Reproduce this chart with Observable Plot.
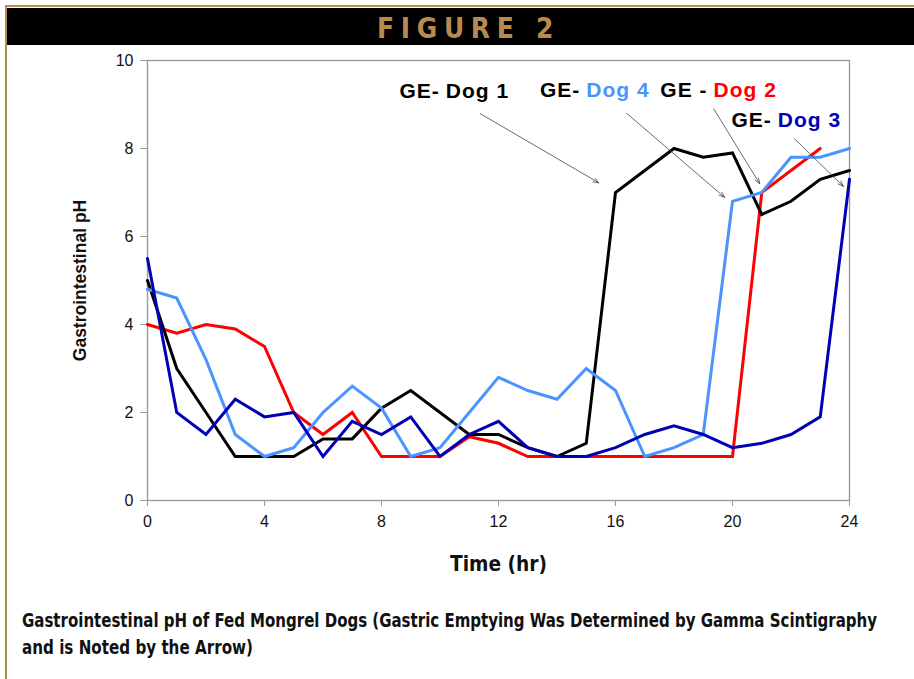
<!DOCTYPE html>
<html>
<head>
<meta charset="utf-8">
<script src="https://cdn.jsdelivr.net/npm/d3@7"></script>
<script src="https://cdn.jsdelivr.net/npm/@observablehq/plot@0.6"></script>
<style>
  body { margin: 0; background: #fff; }
  #page { position: relative; width: 914px; height: 679px; overflow: hidden; background: #fff; }
  #rule-top { position: absolute; left: 5px; top: 5px; right: 0; height: 2px; background: #b98a4e; }
  #rule-left { position: absolute; left: 5px; top: 5px; bottom: 0; width: 2px; background: #b98a4e; }
  #banner { position: absolute; left: 7px; top: 8px; right: 0; height: 37px; background: #000; }
  #banner span { position: absolute; left: 370px; top: 3px; white-space: nowrap; color: #b98a4e;
    font: bold 29px "Liberation Sans Narrow", "DejaVu Sans Condensed", "Liberation Sans", sans-serif;
    letter-spacing: 7px; transform-origin: 0 0; display: inline-block; }
  #chart { position: absolute; left: 0; top: 48px; }
  #caption { position: absolute; left: 22px; top: 607px; color: #111;
    font: bold 19px "Liberation Sans Narrow", "DejaVu Sans Condensed", "Liberation Sans", sans-serif;
    line-height: 27px; }
  #caption div { display: inline-block; white-space: nowrap; transform-origin: 0 0; }
  g[aria-label="y-axis label"] text { font-weight: bold; font-size: 17.5px; fill: #111; }
  g[aria-label="x-axis label"] text { font-weight: bold; font-size: 21px; fill: #111;
    font-family: "Liberation Sans Narrow", "DejaVu Sans Condensed", "Liberation Sans", sans-serif; }
  g[aria-label="text"] text { letter-spacing: 1px; }
</style>
</head>
<body>
<div id="page">
  <div id="rule-top"></div>
  <div id="rule-left"></div>
  <div id="banner"><span id="banner-text">FIGURE 2</span></div>
  <div id="chart"></div>
  <div id="caption">
    <div id="cap1">Gastrointestinal pH of Fed Mongrel Dogs (Gastric Emptying Was Determined by Gamma Scintigraphy</div><br>
    <div id="cap2">and is Noted by the Arrow)</div>
  </div>
</div>
<script>
// Sampling times (hours after feeding)
const hours = [0, 1, 2, 3, 4, 5, 6, 7, 8, 9, 10, 11, 12, 13, 14, 15, 16, 17, 18, 19, 20, 21, 22, 23, 24];

// Gastrointestinal pH for each dog
const dog1 = [5.0, 3.0, 2.0, 1.0, 1.0, 1.0, 1.4, 1.4, 2.1, 2.5, 2.0, 1.5, 1.5, 1.2, 1.0, 1.3, 7.0, 7.5, 8.0, 7.8, 7.9, 6.5, 6.8, 7.3, 7.5];
const dog2 = [4.0, 3.8, 4.0, 3.9, 3.5, 2.0, 1.5, 2.0, 1.0, 1.0, 1.0, 1.45, 1.3, 1.0, 1.0, 1.0, 1.0, 1.0, 1.0, 1.0, 1.0, 7.0, 7.5, 8.0];
const dog3 = [5.5, 2.0, 1.5, 2.3, 1.9, 2.0, 1.0, 1.8, 1.5, 1.9, 1.0, 1.5, 1.8, 1.2, 1.0, 1.0, 1.2, 1.5, 1.7, 1.5, 1.2, 1.3, 1.5, 1.9, 7.3];
const dog4 = [4.8, 4.6, 3.2, 1.5, 1.0, 1.2, 2.0, 2.6, 2.1, 1.0, 1.2, 2.0, 2.8, 2.5, 2.3, 3.0, 2.5, 1.0, 1.2, 1.5, 6.8, 7.0, 7.8, 7.8, 8.0];

const dogNames = ["Dog 1", "Dog 2", "Dog 3", "Dog 4"];
const dogColors = ["#000000", "#ff0000", "#0000b4", "#4a94ff"];

// Axis ticks
const xTicks = [0, 4, 8, 12, 16, 20, 24];
const yTicks = [0, 2, 4, 6, 8, 10];

// Gastric emptying call-outs (label anchor and arrow, in hours / pH units)
const gePrefix = ["GE-", "GE -", "GE-", "GE-"];
const geLabelHour = [10.2, 19.35, 21.55, 15.0];
const geLabelPH = [9.14, 9.16, 8.5, 9.16];
const geFromHour = [11.38, 19.36, 22.12, 16.38];
const geFromPH = [8.79, 8.9, 8.22, 8.8];
const geToHour = [15.43, 20.93, 23.79, 19.73];
const geToPH = [7.22, 7.2, 7.14, 6.89];

const seriesValues = [dog1, dog2, dog3, dog4];
const rows = [];
seriesValues.forEach((vals, s) => vals.forEach((v, i) =>
  rows.push({dog: dogNames[s], color: dogColors[s], hour: hours[i], pH: v})));
// drawing order: red, black, light blue, dark blue on top
const order = ["Dog 2", "Dog 1", "Dog 4", "Dog 3"];
rows.sort((a, b) => order.indexOf(a.dog) - order.indexOf(b.dog));

const notes = dogNames.map((name, i) => ({
  name, prefix: gePrefix[i], color: i === 0 ? "#000000" : dogColors[i],
  lx: geLabelHour[i], ly: geLabelPH[i],
  x1: geFromHour[i], y1: geFromPH[i], x2: geToHour[i], y2: geToPH[i]
}));

const chart = Plot.plot({
  width: 914,
  height: 540,
  marginLeft: 147,
  marginRight: 65,
  marginTop: 12,
  marginBottom: 88,
  style: {fontFamily: "'Liberation Sans', Arial, sans-serif", fontSize: "16px", color: "#111", background: "transparent", overflow: "visible"},
  x: {domain: [0, 24]},
  y: {domain: [0, 10]},
  color: {type: "identity"},
  marks: [
    Plot.frame({stroke: "#9c9c9c", strokeWidth: 1.4}),
    Plot.axisY({ticks: yTicks, tickSize: 7, tickPadding: 7, stroke: "#9c9c9c", fill: "#111",
      label: "Gastrointestinal pH", labelAnchor: "center", labelOffset: 74, labelArrow: "none"}),
    Plot.axisX({ticks: xTicks, tickSize: 6, tickPadding: 9, stroke: "#9c9c9c", fill: "#111",
      label: "Time (hr)", labelAnchor: "center", labelOffset: 70, labelArrow: "none"}),
    Plot.line(rows, {x: "hour", y: "pH", z: "dog", stroke: "color", strokeWidth: 3, strokeLinejoin: "miter", strokeMiterlimit: 3}),
    Plot.arrow(notes, {x1: "x1", y1: "y1", x2: "x2", y2: "y2", stroke: "#444", strokeWidth: 0.8, headLength: 11, headAngle: 40}),
    Plot.text(notes, {x: "lx", y: "ly", text: "prefix", textAnchor: "end", lineAnchor: "bottom", dx: -6,
      fill: "#000", fontSize: 21, fontWeight: "bold"}),
    Plot.text(notes, {x: "lx", y: "ly", text: "name", textAnchor: "start", lineAnchor: "bottom",
      fill: "color", fontSize: 21, fontWeight: "bold"})
  ]
});
document.getElementById("chart").appendChild(chart);

// Condensed text blocks are fitted to their set widths
function fitWidth(id, target) {
  const el = document.getElementById(id);
  const w = el.getBoundingClientRect().width;
  if (w > 0) el.style.transform = `scaleX(${target / w})`;
}
fitWidth("cap1", 855);
fitWidth("cap2", 231);
fitWidth("banner-text", 183);
const xl = chart.querySelector('g[aria-label="x-axis label"] text');
if (xl) { xl.setAttribute("textLength", 97); xl.setAttribute("lengthAdjust", "spacingAndGlyphs"); }
</script>
</body>
</html>
